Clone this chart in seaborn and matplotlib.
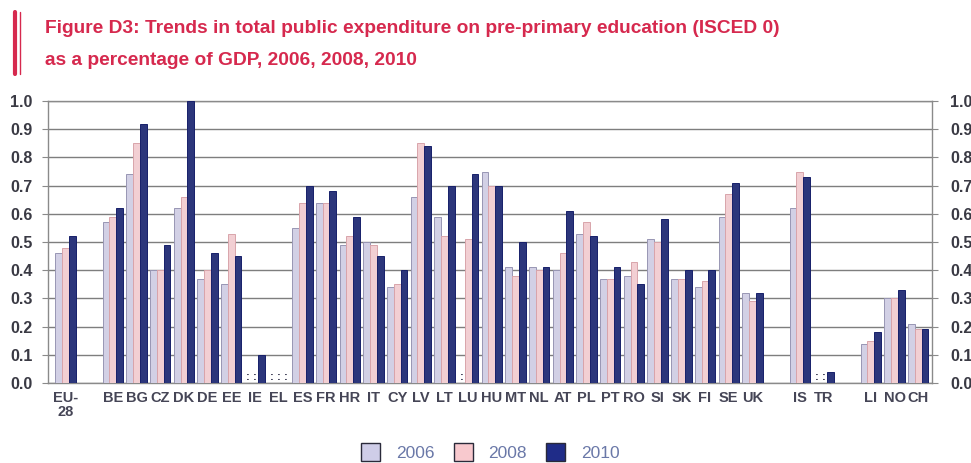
import numpy as np
import pandas as pd
import seaborn as sns
import matplotlib.pyplot as plt
from matplotlib.patches import Patch
from matplotlib.lines import Line2D

# Countries in display order; blank entries are empty spacer slots
countries = ["EU-28", "", "BE", "BG", "CZ", "DK", "DE", "EE", "IE", "EL", "ES", "FR",
             "HR", "IT", "CY", "LV", "LT", "LU", "HU", "MT", "NL", "AT", "PL", "PT",
             "RO", "SI", "SK", "FI", "SE", "UK", " ", "IS", "TR", "  ", "LI", "NO", "CH"]
nan = np.nan
v2006 = [0.46, nan, 0.57, 0.74, 0.40, 0.62, 0.37, 0.35, nan, nan, 0.55, 0.64,
         0.49, 0.50, 0.34, 0.66, 0.59, nan, 0.75, 0.41, 0.41, 0.40, 0.53, 0.37,
         0.38, 0.51, 0.37, 0.34, 0.59, 0.32, nan, 0.62, nan, nan, 0.14, 0.30, 0.21]
v2008 = [0.48, nan, 0.59, 0.85, 0.40, 0.66, 0.40, 0.53, nan, nan, 0.64, 0.64,
         0.52, 0.49, 0.35, 0.85, 0.52, 0.51, 0.70, 0.38, 0.40, 0.46, 0.57, 0.37,
         0.43, 0.50, 0.37, 0.36, 0.67, 0.29, nan, 0.75, nan, nan, 0.15, 0.30, 0.19]
v2010 = [0.52, nan, 0.62, 0.92, 0.49, 1.00, 0.46, 0.45, 0.10, nan, 0.70, 0.68,
         0.59, 0.45, 0.40, 0.84, 0.70, 0.74, 0.70, 0.50, 0.41, 0.61, 0.52, 0.41,
         0.35, 0.58, 0.40, 0.40, 0.71, 0.32, nan, 0.73, 0.04, nan, 0.18, 0.33, 0.19]
years = ["2006", "2008", "2010"]
# countries with ":" (data not available) per year index
missing = {"IE": [0, 1], "EL": [0, 1, 2], "LU": [0], "TR": [0, 1]}

tick_labels = ["EU-\n28" if c == "EU-28" else c.strip() for c in countries]

colors = ["#cfcde8", "#f8c9ce", "#1f2c88"]
edges = ["#9896b4", "#d9a4ab", "#17206a"]

df = pd.DataFrame({"country": countries * 3,
                   "year": sum([[y] * len(countries) for y in years], []),
                   "value": v2006 + v2008 + v2010}).dropna()

sns.set_style("white")
plt.rcParams["font.family"] = ["Liberation Sans", "DejaVu Sans"]

fig = plt.figure(figsize=(9.71, 4.63), dpi=100)
ax = fig.add_axes([0.0494, 0.1728, 0.9104, 0.609])

sns.barplot(data=df, x="country", y="value", hue="year", order=countries,
            hue_order=years, palette=colors, width=0.86, linewidth=0.7,
            legend=False, ax=ax, zorder=3)
for cont, ec in zip(ax.containers, edges):
    for bar in cont:
        bar.set_edgecolor(ec)

ticks = np.arange(0, 1.01, 0.1)
ax.set_ylim(0, 1.0)
ax.set_xlim(-0.74, len(countries) - 1 + 0.58)
ax.set_yticks(ticks)
ax.set_yticklabels([f"{t:.1f}" for t in ticks],
                   fontsize=11.5, fontweight="bold", color="#3a3a44")
ax.yaxis.grid(True, color="#7e7e7e", linewidth=1.0, zorder=0)
ax.set_axisbelow(True)
ax.set_xticks(range(len(countries)))
ax.set_xticklabels(tick_labels, fontsize=10.5, fontweight="bold", color="#454556",
                   linespacing=1.0)
ax.tick_params(axis="x", length=0, pad=6)
ax.tick_params(axis="y", length=4, color="#8a8a8a", left=True, pad=7)
ax.set_xlabel("")
ax.set_ylabel("")
for s in ax.spines.values():
    s.set_color("#8a8a8a")
    s.set_linewidth(1.0)

# right-hand duplicate axis
ax2 = ax.twinx()
ax2.set_ylim(0, 1.0)
ax2.set_yticks(ticks)
ax2.set_yticklabels([f"{t:.1f}" for t in ticks],
                    fontsize=11.5, fontweight="bold", color="#3a3a44")
ax2.tick_params(axis="y", length=4, color="#8a8a8a", right=True, pad=9)
for s in ax2.spines.values():
    s.set_visible(False)

# ":" markers for data not available
bw = 0.86 / 3
for c, idxs in missing.items():
    pos = countries.index(c)
    for i in idxs:
        ax.text(pos + (i - 1) * bw, 0.005, ":", ha="center", va="bottom",
                fontsize=8, fontweight="bold", color="#30304a", zorder=4)

# title with red side bars
fig.text(0.046, 0.938, "Figure D3: Trends in total public expenditure on pre-primary education (ISCED 0)",
         fontsize=13.8, fontweight="bold", color="#d6294e", va="center")
fig.text(0.046, 0.870, "as a percentage of GDP, 2006, 2008, 2010",
         fontsize=13.8, fontweight="bold", color="#d6294e", va="center")
fig.add_artist(Line2D([0.0155, 0.0155], [0.84, 0.975], color="#d6294e", linewidth=3.0))
fig.add_artist(Line2D([0.0210, 0.0210], [0.84, 0.975], color="#d6294e", linewidth=1.0))

handles = [Patch(facecolor=col, edgecolor="#2a2a3a", linewidth=1.0, label=y)
           for col, y in zip(colors, years)]
fig.legend(handles=handles, loc="center", bbox_to_anchor=(0.505, 0.024), ncol=3,
           frameon=False, fontsize=12.5, labelcolor="#6a78a8", handlelength=1.1,
           handleheight=1.2, columnspacing=1.1, handletextpad=0.9)

fig.savefig("out.png", dpi=100)
